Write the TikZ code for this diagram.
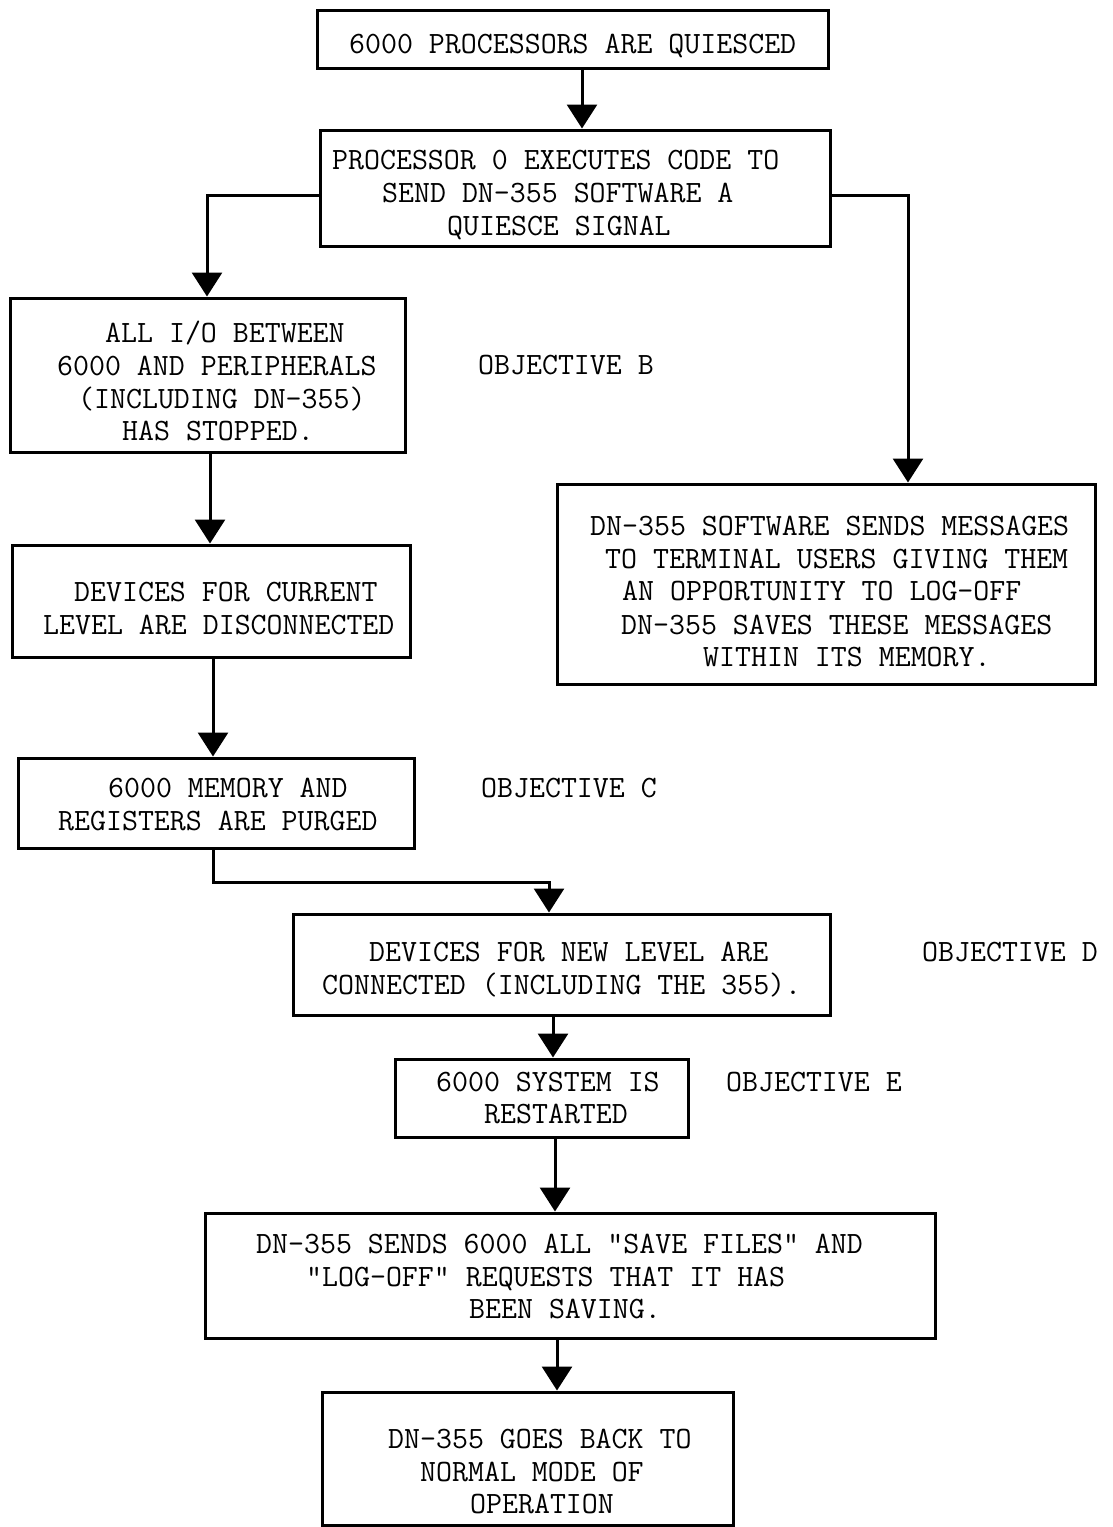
\documentclass[tikz,border=0pt]{standalone}
\usepackage{fontspec}
\usetikzlibrary{arrows.meta,calc}
\tikzset{
  box/.style={draw=black, line width=3pt, rectangle, inner sep=0pt},
  txt/.style={anchor=base west, inner sep=0pt, font=\fontsize{31}{33}\selectfont\ttfamily},
  arr/.style={line width=3pt, -{Triangle[width=30pt,length=24pt]}},
}
\begin{document}
\begin{tikzpicture}[x=1pt,y=-1pt]
\useasboundingbox (0,0) rectangle (1112,1527);
% boxes
\node[box, minimum width=511pt, minimum height=58pt]  (a) at (572.5,39) {};
\node[box, minimum width=510pt, minimum height=116pt] (b) at (575,188) {};
\node[box, minimum width=395pt, minimum height=154pt] (c) at (207.5,375) {};
\node[box, minimum width=398pt, minimum height=112pt] (d) at (211,601) {};
\node[box, minimum width=396pt, minimum height=90pt]  (e) at (216,803) {};
\node[box, minimum width=538pt, minimum height=200pt] (f) at (826,584) {};
\node[box, minimum width=537pt, minimum height=101pt] (g) at (561.5,964.5) {};
\node[box, minimum width=293pt, minimum height=78pt]  (h) at (541.5,1098) {};
\node[box, minimum width=730pt, minimum height=125pt] (i) at (570,1275.5) {};
\node[box, minimum width=411pt, minimum height=133pt] (j) at (527.5,1458.5) {};
% texts
\node[txt] (a1) at (349,53) {6000 PROCESSORS ARE QUIESCED};
\node[txt] (b1) at (332,169) {PROCESSOR 0 EXECUTES CODE TO};
\node[txt] (b2) at (382,202) {SEND DN-355 SOFTWARE A};
\node[txt] (b3) at (447,235) {QUIESCE SIGNAL};
\node[txt] (c1) at (105,342) {ALL I/O BETWEEN};
\node[txt] (c2) at (57,375) {6000 AND PERIPHERALS};
\node[txt] (c3) at (78,408) {(INCLUDING DN-355)};
\node[txt] (c4) at (122,440) {HAS STOPPED.};
\node[txt] (d1) at (74,601) {DEVICES FOR CURRENT};
\node[txt] (d2) at (43,634) {LEVEL ARE DISCONNECTED};
\node[txt] (e1) at (108,797) {6000 MEMORY AND};
\node[txt] (e2) at (58,830) {REGISTERS ARE PURGED};
\node[txt] (f1) at (590,535) {DN-355 SOFTWARE SENDS MESSAGES};
\node[txt] (f2) at (605,568) {TO TERMINAL USERS GIVING THEM};
\node[txt] (f3) at (622,600) {AN OPPORTUNITY TO LOG-OFF};
\node[txt] (f4) at (621,634) {DN-355 SAVES THESE MESSAGES};
\node[txt] (f5) at (703,666) {WITHIN ITS MEMORY.};
\node[txt] (g1) at (369,961) {DEVICES FOR NEW LEVEL ARE};
\node[txt] (g2) at (322,994) {CONNECTED (INCLUDING THE 355).};
\node[txt] (h1) at (436,1091) {6000 SYSTEM IS};
\node[txt] (h2) at (484,1123) {RESTARTED};
\node[txt] (i1) at (256,1253) {DN-355 SENDS 6000 ALL "SAVE FILES" AND};
\node[txt] (i2) at (306,1286) {"LOG-OFF" REQUESTS THAT IT HAS};
\node[txt] (i3) at (469,1318) {BEEN SAVING.};
\node[txt] (j1) at (388,1448) {DN-355 GOES BACK TO};
\node[txt] (j2) at (420,1481) {NORMAL MODE OF};
\node[txt] (j3) at (470,1513) {OPERATION};
% objective labels
\node[txt] (ob) at (478,374) {OBJECTIVE B};
\node[txt] (oc) at (481,797) {OBJECTIVE C};
\node[txt] (od) at (922,961) {OBJECTIVE D};
\node[txt] (oe) at (726,1091) {OBJECTIVE E};
% connector x positions
\coordinate (xab) at (582,0);
\coordinate (xbc) at (207,0);
\coordinate (xbf) at (908,0);
\coordinate (xcd) at (210,0);
\coordinate (xde) at (213,0);
\coordinate (xeg) at (549,0);
\coordinate (xgh) at (553,0);
\coordinate (xhi) at (555,0);
\coordinate (xij) at (557,0);
\coordinate (ybend) at (0,195);
\coordinate (yeg) at (0,882);
% connectors
\draw[arr] (a.south -| xab) -- (b.north -| xab);
\draw[arr] (b.west |- ybend) -| (c.north -| xbc);
\draw[arr] (b.east |- ybend) -| (f.north -| xbf);
\draw[arr] (c.south -| xcd) -- (d.north -| xcd);
\draw[arr] (d.south -| xde) -- (e.north -| xde);
\draw[arr] (e.south -| xde) -- (xde |- yeg) -| (g.north -| xeg);
\draw[arr] (g.south -| xgh) -- (h.north -| xgh);
\draw[arr] (h.south -| xhi) -- (i.north -| xhi);
\draw[arr] (i.south -| xij) -- (j.north -| xij);
\end{tikzpicture}
\end{document}
